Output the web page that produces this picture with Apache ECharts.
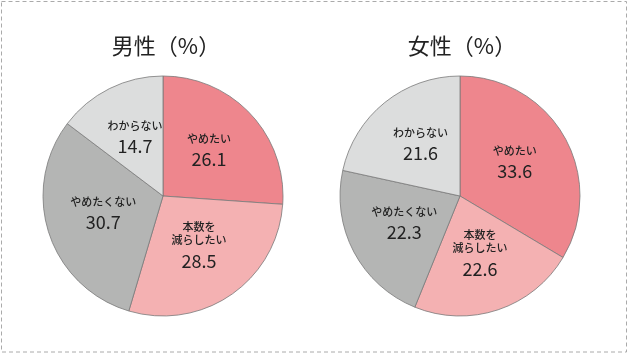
<!DOCTYPE html>
<html>
<head>
<meta charset="utf-8">
<script src="https://cdn.jsdelivr.net/npm/echarts@6/dist/echarts.min.js"></script>
<style>
  body { margin: 0; background: #fff; }
  #main { width: 630px; height: 354px; }
</style>
</head>
<body>
<div id="main"></div>
<script>
// 回答区分（ラベル用に改行入り）
const categories = ['やめたい', '本数を\n減らしたい', 'やめたくない', 'わからない']
const maleValues = [26.1, 28.5, 30.7, 14.7]
const femaleValues = [33.6, 22.6, 22.3, 21.6]
const titles = ['男性（%）', '女性（%）']
const colors = ['#ee868d', '#f4b1b2', '#b4b5b4', '#dcdddd']

const font = '"Noto Sans CJK JP", "Noto Sans", sans-serif'

// 円グラフ1つ分
function makePie (values, cx) {
  return {
    type: 'pie',
    center: [cx, 196],
    radius: 120,
    startAngle: 90,
    clockwise: true,
    silent: true,
    data: categories.map((name, i) => ({
      name,
      value: values[i],
      itemStyle: { color: colors[i] }
    })),
    itemStyle: {
      borderColor: '#7a7a7a',
      borderWidth: 0.8
    },
    label: {
      show: true,
      position: 'inside',
      formatter: (p) => '{n|' + p.name.split('\n').join('}\n{n|') + '}\n{v|' + p.value + '}',
      rich: {
        n: { fontFamily: font, fontSize: 11, color: '#222', lineHeight: 13, fontWeight: 500 },
        v: { fontFamily: font, fontSize: 18, color: '#222', lineHeight: 28 }
      }
    },
    labelLine: { show: false }
  }
}

const chart = echarts.init(document.getElementById('main'))
chart.setOption({
  animation: false,
  title: titles.map((t, i) => ({
    text: t,
    left: i === 0 ? 161 : 457,
    top: 30,
    textAlign: 'center',
    textStyle: { fontFamily: font, fontSize: 22, fontWeight: 'normal', color: '#222' }
  })),
  graphic: [{
    type: 'rect',
    shape: { x: 1.5, y: 1.5, width: 625, height: 350.5 },
    style: { fill: null, stroke: '#aaa', lineWidth: 1, lineDash: [4, 3] },
    silent: true
  }],
  series: [makePie(maleValues, 163), makePie(femaleValues, 460)]
})
</script>
</body>
</html>
